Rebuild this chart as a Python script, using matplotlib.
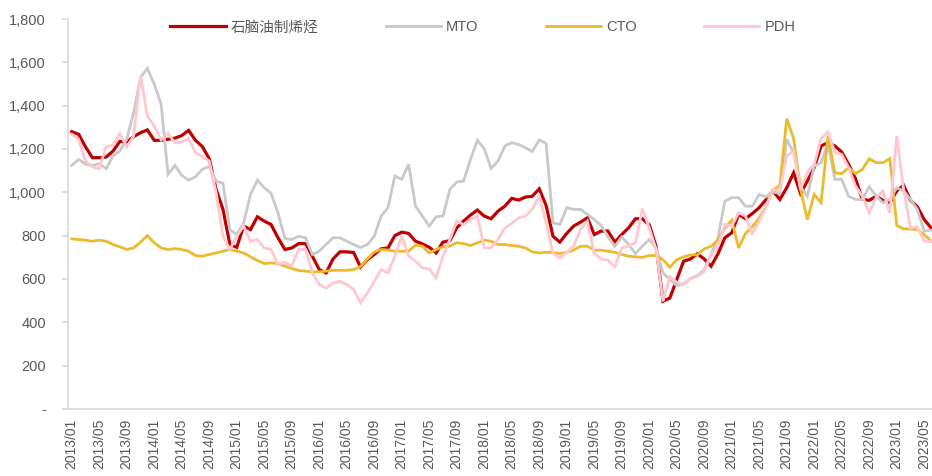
import pandas as pd
import numpy as np
import matplotlib
matplotlib.use('Agg')
import matplotlib.pyplot as plt
from matplotlib.ticker import FuncFormatter

plt.rcParams['font.family'] = ['Liberation Sans', 'Noto Sans CJK SC', 'DejaVu Sans']

# monthly, 2013/01 - 2023/06
months = pd.date_range('2013-01-01', periods=126, freq='MS').strftime('%Y/%m').tolist()

naphtha = [1280, 1268, 1210, 1160, 1160, 1163, 1190, 1235, 1232, 1257, 1275, 1288,
           1240, 1240, 1245, 1250, 1262, 1286, 1240, 1211, 1155, 1013, 921, 759,
           746, 844, 828, 887, 867, 851, 790, 736, 743, 763, 763, 705,
           643, 628, 692, 725, 725, 722, 655, 689, 713, 739, 743, 800,
           816, 810, 774, 762, 746, 720, 770, 777, 836, 867, 895, 918,
           890, 878, 913, 936, 972, 964, 978, 982, 1016, 939, 797, 770,
           810, 844, 862, 882, 805, 821, 821, 770, 805, 836, 878, 878,
           850, 750, 497, 512, 597, 682, 692, 716, 692, 659, 716, 790,
           813, 898, 878, 902, 929, 967, 1006, 967, 1021, 1090, 995, 1052,
           1114, 1214, 1229, 1214, 1186, 1129, 1063, 967, 963, 982, 963, 952,
           1006, 1032, 963, 933, 874, 836]

mto = [1124, 1152, 1129, 1124, 1132, 1109, 1168, 1191, 1245, 1368, 1530, 1572,
       1499, 1407, 1083, 1124, 1078, 1056, 1072, 1106, 1120, 1052, 1041, 828,
       805, 859, 990, 1056, 1021, 995, 905, 787, 782, 797, 790, 713,
       728, 759, 790, 790, 774, 759, 745, 759, 797, 890, 929, 1075,
       1060, 1129, 936, 890, 844, 887, 890, 1013, 1047, 1052, 1152, 1240,
       1201, 1110, 1144, 1214, 1229, 1221, 1206, 1188, 1242, 1225, 859, 851,
       929, 921, 921, 898, 874, 847, 794, 751, 794, 759, 717, 751,
       782, 743, 628, 597, 569, 578, 602, 615, 643, 713, 790, 959,
       975, 975, 936, 936, 990, 979, 1001, 995, 1245, 1183, 1026, 982,
       1121, 1137, 1229, 1060, 1060, 982, 967, 967, 1026, 982, 952, 967,
       1021, 1006, 967, 921, 821, 825]

cto = [785, 782, 779, 774, 779, 774, 759, 748, 736, 743, 770, 800,
       767, 743, 736, 740, 736, 728, 708, 705, 713, 720, 728, 736,
       728, 720, 702, 685, 671, 674, 671, 659, 648, 639, 636, 633,
       633, 636, 640, 640, 640, 643, 657, 692, 725, 736, 733, 728,
       728, 728, 756, 751, 720, 736, 748, 751, 767, 763, 754, 767,
       779, 774, 759, 759, 754, 751, 743, 725, 720, 723, 723, 717,
       723, 733, 751, 751, 733, 733, 728, 723, 713, 705, 702, 700,
       708, 708, 689, 654, 689, 702, 711, 711, 739, 751, 779, 836,
       871, 743, 810, 841, 882, 936, 1010, 1032, 1340, 1248, 1016, 874,
       990, 952, 1260, 1090, 1086, 1114, 1086, 1106, 1155, 1137, 1137, 1155,
       847, 831, 831, 828, 805, 774]

pdh = [1268, 1245, 1144, 1118, 1109, 1211, 1217, 1272, 1209, 1260, 1538, 1353,
       1306, 1242, 1272, 1229, 1232, 1248, 1183, 1165, 1144, 998, 797, 736,
       797, 844, 774, 782, 743, 736, 666, 677, 659, 736, 736, 628,
       574, 558, 581, 589, 574, 551, 490, 535, 589, 643, 628, 705,
       797, 705, 682, 651, 646, 605, 705, 782, 867, 851, 874, 890,
       743, 743, 782, 835, 856, 882, 890, 924, 982, 859, 720, 697,
       723, 751, 828, 867, 717, 692, 686, 656, 743, 751, 767, 925,
       836, 736, 497, 612, 585, 574, 602, 612, 635, 708, 751, 851,
       844, 905, 890, 810, 867, 936, 1013, 1006, 1168, 1191, 1013, 1093,
       1129, 1248, 1279, 1183, 1175, 1114, 1029, 982, 905, 975, 1006, 905,
       1260, 1013, 836, 841, 774, 774]

series_names = ['石脑油制烯烃', 'MTO', 'CTO', 'PDH']
series_colors = ['#C00000', '#C9C9C9', '#EBBB2C', '#FFC7CE']

fig = plt.figure(figsize=(9.32, 4.76), dpi=100)
ax = fig.add_axes([0.073, 0.141, 0.927, 0.819])

x = np.arange(len(months))
for vals, name, col in zip([naphtha, mto, cto, pdh], series_names, series_colors):
    lw = 2.3 if name == '石脑油制烯烃' else 2.0
    ax.plot(x, vals, color=col, linewidth=lw, label=name, solid_joinstyle='miter')

ax.set_xlim(-0.54, 125.13)
ax.set_ylim(0, 1800)
ax.set_yticks(np.arange(0, 1801, 200))
ax.yaxis.set_major_formatter(FuncFormatter(lambda v, p: '-' if v == 0 else f'{v:,.0f}'))

tick_pos = x[::4]
ax.set_xticks(tick_pos)
ax.set_xticklabels([months[i] for i in tick_pos], rotation=90)

for side in ['top', 'right']:
    ax.spines[side].set_visible(False)
for side in ['left', 'bottom']:
    ax.spines[side].set_color('#D9D9D9')
    ax.spines[side].set_linewidth(1.2)

ax.tick_params(axis='y', colors='#D9D9D9', labelcolor='#595959', labelsize=10.5,
               length=4, width=1.2, pad=12)
ax.tick_params(axis='x', length=0, labelcolor='#595959', labelsize=10, pad=7)

leg = ax.legend(loc='upper center', bbox_to_anchor=(0.48, 1.03), ncol=4, frameon=False,
                fontsize=10.5, handlelength=3.8, handletextpad=0.35, columnspacing=4.6)
for t in leg.get_texts():
    t.set_color('#595959')

plt.savefig('out.png', dpi=100)
